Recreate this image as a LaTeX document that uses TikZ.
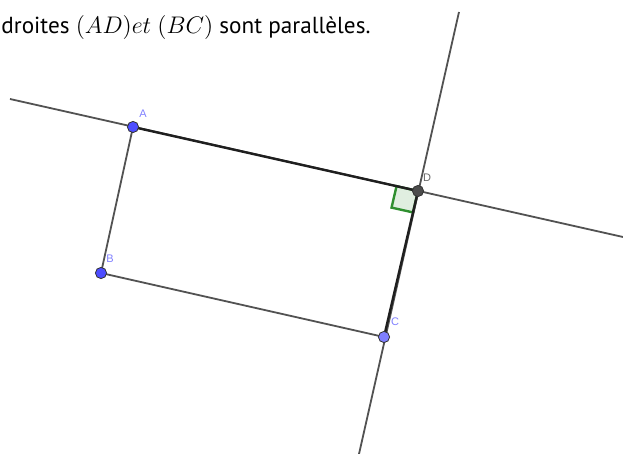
\documentclass[tikz,border=0pt]{standalone}
\usepackage{fontspec}
\setmainfont{Liberation Sans}
\newfontfamily\titlefont{PT Sans}
\usetikzlibrary{calc}

\definecolor{ptblue}{HTML}{4D4DFF}
\definecolor{ptlight}{HTML}{7F7FFF}
\definecolor{lblblue}{HTML}{8080FF}
\definecolor{anggreen}{HTML}{2F8F2F}

\begin{document}
\begin{tikzpicture}[
  x=0.5pt, y=-0.5pt,
  line/.style={draw=black!68, line width=0.9pt},
  seg/.style={draw=black!88, line width=1.2pt},
  pt/.style={circle, draw=black!80, line width=0.4pt, inner sep=0pt, minimum size=5.6pt},
  lbl/.style={font=\fontsize{5.5}{6}\selectfont, inner sep=0pt},
  angle/.style={draw=anggreen, fill=anggreen!15, line width=1.2pt},
  title/.style={font=\titlefont\fontsize{11.6}{13}\selectfont, inner sep=0pt, anchor=base west},
]
  \useasboundingbox (0,0) rectangle (623,454);

  \node[title] (titre) at (1,34) {droites $(AD)et$ $(BC)$ sont parallèles.};

  \coordinate (A) at (133,127);
  \coordinate (B) at (101,273);
  \coordinate (C) at (384,337);
  \coordinate (D) at (418,191);
  % free ends of the two lines
  \coordinate (ADw) at (10,99);
  \coordinate (ADe) at (623,237);
  \coordinate (DCn) at (459,12);
  \coordinate (DCs) at (359,454);

  % right angle at D
  \coordinate (ra1) at ($(D)!11pt!(A)$);
  \coordinate (ra3) at ($(D)!11pt!(C)$);
  \coordinate (ra2) at ($(ra1)+(ra3)-(D)$);
  \filldraw[angle] (D) -- (ra1) -- (ra2) -- (ra3) -- cycle;

  \draw[line] (ADw) -- (ADe);
  \draw[line] (DCn) -- (DCs);
  \draw[line] (A) -- (B) -- (C);
  \draw[seg] (A) -- (D) -- (C);

  \node[pt, fill=ptblue] (pA) at (A) {};
  \node[pt, fill=ptblue] (pB) at (B) {};
  \node[pt, fill=ptlight] (pC) at (C) {};
  \node[pt, fill=black!70] (pD) at (D) {};

  \node[lbl, text=lblblue] (lA) at (143,114) {A};
  \node[lbl, text=lblblue] (lB) at (110,259) {B};
  \node[lbl, text=lblblue] (lC) at (395,322) {C};
  \node[lbl, text=black!60] (lD) at (427,178) {D};
\end{tikzpicture}
\end{document}
